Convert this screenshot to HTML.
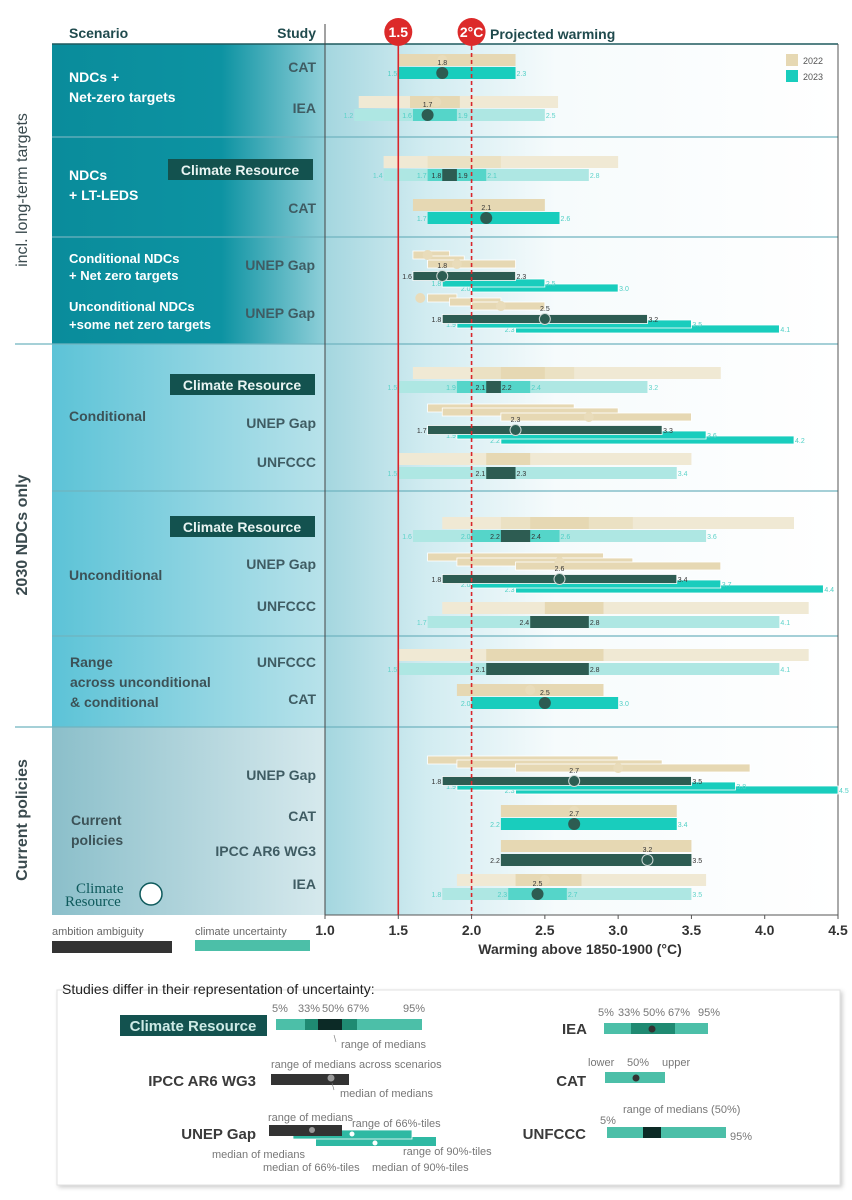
<!DOCTYPE html>
<html><head><meta charset="utf-8"><style>
html,body{margin:0;padding:0;background:#fff;}
svg{display:block;font-family:"Liberation Sans","DejaVu Sans",sans-serif;}
</style></head><body>
<svg id="chart" width="852" height="1200" viewBox="0 0 852 1200" xmlns="http://www.w3.org/2000/svg">
<defs>
<linearGradient id="gDark" x1="0" x2="1" y1="0" y2="0"><stop offset="0" stop-color="#0a8c9b"/><stop offset="0.62" stop-color="#0d93a2"/><stop offset="1" stop-color="#8fcfd9"/></linearGradient>
<linearGradient id="gMid" x1="0" x2="1" y1="0" y2="0"><stop offset="0" stop-color="#5cc3d7"/><stop offset="1" stop-color="#b8e2ea"/></linearGradient>
<linearGradient id="gGrey" x1="0" x2="1" y1="0" y2="0"><stop offset="0" stop-color="#8bbfca"/><stop offset="1" stop-color="#d6e9ed"/></linearGradient>
<linearGradient id="gPlot" x1="0" x2="1" y1="0" y2="0"><stop offset="0" stop-color="#a4d6df"/><stop offset="0.2" stop-color="#d2ecf1"/><stop offset="0.45" stop-color="#f6fbfc"/><stop offset="1" stop-color="#ffffff"/></linearGradient>
<filter id="shadow" x="-5%" y="-5%" width="110%" height="115%"><feDropShadow dx="2" dy="2" stdDeviation="2" flood-color="#000" flood-opacity="0.2"/></filter>
</defs>

<text x="69" y="38" font-size="14" font-weight="bold" fill="#1f4a4d">Scenario</text>
<text x="316" y="38" font-size="14" font-weight="bold" fill="#1f4a4d" text-anchor="end">Study</text>
<text x="490" y="39" font-size="14" font-weight="bold" fill="#1f4a4d">Projected warming</text>

<rect x="52" y="44" width="273" height="300" fill="url(#gDark)"/>
<rect x="52" y="344" width="273" height="383" fill="url(#gMid)"/>
<rect x="52" y="727" width="273" height="188" fill="url(#gGrey)"/>
<rect x="325" y="44" width="513" height="871" fill="url(#gPlot)"/>

<g stroke="#6fb3bf" stroke-width="1.2">
<line x1="52" x2="838" y1="137" y2="137"/><line x1="52" x2="838" y1="237" y2="237"/>
<line x1="15" x2="838" y1="344" y2="344"/><line x1="52" x2="838" y1="491" y2="491"/>
<line x1="52" x2="838" y1="636" y2="636"/><line x1="15" x2="838" y1="727" y2="727"/>
</g>
<line x1="52" x2="838" y1="44" y2="44" stroke="#1f5a5e" stroke-width="1.5"/>
<line x1="325" x2="325" y1="24" y2="918" stroke="#444" stroke-width="1"/>
<line x1="838" x2="838" y1="44" y2="915" stroke="#555" stroke-width="1"/>

<text transform="translate(27,190) rotate(-90)" font-size="16" fill="#3a4a4e" text-anchor="middle">incl. long-term targets</text>
<text transform="translate(27,535) rotate(-90)" font-size="16" font-weight="bold" fill="#3a4a4e" text-anchor="middle">2030 NDCs only</text>
<text transform="translate(27,820) rotate(-90)" font-size="16" font-weight="bold" fill="#3a4a4e" text-anchor="middle">Current policies</text>

<g font-size="14" font-weight="bold" fill="#ffffff">
<text x="69" y="82"><tspan x="69">NDCs +</tspan><tspan x="69" dy="20">Net-zero targets</tspan></text>
<text x="69" y="180"><tspan x="69">NDCs</tspan><tspan x="69" dy="20">+ LT-LEDS</tspan></text>
<text x="69" y="263" font-size="13"><tspan x="69">Conditional NDCs</tspan><tspan x="69" dy="17">+ Net zero targets</tspan></text>
<text x="69" y="311" font-size="13"><tspan x="69">Unconditional NDCs</tspan><tspan x="69" dy="18">+some net zero targets</tspan></text>
</g>
<g font-size="14" font-weight="bold" fill="#3c5257">
<text x="69" y="421">Conditional</text>
<text x="69" y="580">Unconditional</text>
<text x="70" y="667"><tspan x="70">Range</tspan><tspan x="70" dy="20">across unconditional</tspan><tspan x="70" dy="20">&amp; conditional</tspan></text>
<text x="71" y="825"><tspan x="71">Current</tspan><tspan x="71" dy="20">policies</tspan></text>
</g>

<g font-size="14" font-weight="bold" fill="#3f5c63" text-anchor="end">
<text x="316" y="72">CAT</text>
<text x="316" y="113">IEA</text>
<text x="316" y="213">CAT</text>
<text x="315" y="270">UNEP Gap</text>
<text x="315" y="318">UNEP Gap</text>
<text x="316" y="428">UNEP Gap</text>
<text x="316" y="467">UNFCCC</text>
<text x="316" y="569">UNEP Gap</text>
<text x="316" y="611">UNFCCC</text>
<text x="316" y="667">UNFCCC</text>
<text x="316" y="704">CAT</text>
<text x="316" y="780">UNEP Gap</text>
<text x="316" y="821">CAT</text>
<text x="316" y="856">IPCC AR6 WG3</text>
<text x="316" y="889">IEA</text>
</g>
<g><rect x="168" y="159" width="145" height="21" fill="#13524f"/><text x="240" y="175" font-size="14" font-weight="bold" fill="#e8f4f2" text-anchor="middle">Climate Resource</text></g>
<g><rect x="170" y="374" width="145" height="21" fill="#13524f"/><text x="242" y="390" font-size="14" font-weight="bold" fill="#e8f4f2" text-anchor="middle">Climate Resource</text></g>
<g><rect x="170" y="516" width="145" height="21" fill="#13524f"/><text x="242" y="532" font-size="14" font-weight="bold" fill="#e8f4f2" text-anchor="middle">Climate Resource</text></g>

<g>
<text x="76" y="893" font-family="Liberation Serif, serif" font-size="15" fill="#0e5a5c">Climate</text>
<text x="65" y="906" font-family="Liberation Serif, serif" font-size="15" fill="#0e5a5c">Resource</text>
<circle cx="151" cy="894" r="11" fill="#fff" stroke="#0e5a5c" stroke-width="1.5"/>
</g>

<g>
<rect x="786" y="54" width="12" height="12" fill="#e6d8b3"/><text x="803" y="64" font-size="9" fill="#555">2022</text>
<rect x="786" y="70" width="12" height="12" fill="#19cdbd"/><text x="803" y="80" font-size="9" fill="#555">2023</text>
</g>

<g id="marks"></g>
<g id="reflines"></g>

<line x1="325" x2="838" y1="915" y2="915" stroke="#555" stroke-width="1"/>
<g id="xaxis"></g>
<text x="580" y="954" font-size="14" font-weight="bold" fill="#333" text-anchor="middle">Warming above 1850-1900 (°C)</text>

<text x="52" y="935" font-size="11" fill="#666">ambition ambiguity</text>
<rect x="52" y="941" width="120" height="12" fill="#333"/>
<text x="195" y="935" font-size="11" fill="#666">climate uncertainty</text>
<rect x="195" y="940" width="115" height="11" fill="#4cbfa8"/>

<rect x="57" y="990" width="783" height="195" fill="#fff" stroke="#e2e2e2" filter="url(#shadow)"/>
<text x="62" y="994" font-size="14" fill="#222">Studies differ in their representation of uncertainty:</text>
<g font-size="11" fill="#777">
<rect x="120" y="1015" width="147" height="21" fill="#13524f"/>
<text x="193" y="1031" font-size="15" font-weight="bold" fill="#cdeae6" text-anchor="middle">Climate Resource</text>
<g><rect x="276" y="1019" width="146" height="11" fill="#4cbfa8"/><rect x="305" y="1019" width="52" height="11" fill="#1f8a72"/><rect x="318" y="1019" width="24" height="11" fill="#0c2a26"/></g>
<text x="272" y="1012">5%</text><text x="298" y="1012">33%</text><text x="322" y="1012">50%</text><text x="347" y="1012">67%</text><text x="403" y="1012">95%</text>
<line x1="334" y1="1035" x2="336" y2="1042" stroke="#777" stroke-width="0.6"/>
<text x="341" y="1048">range of medians</text>
<text x="256" y="1086" font-size="15" font-weight="bold" fill="#3a3a3a" text-anchor="end">IPCC AR6 WG3</text>
<rect x="271" y="1074" width="78" height="11" fill="#333"/>
<circle cx="331" cy="1078" r="3.5" fill="#999"/>
<text x="271" y="1068">range of medians across scenarios</text>
<line x1="332" y1="1083" x2="334" y2="1090" stroke="#777" stroke-width="0.6"/>
<text x="340" y="1097">median of medians</text>
<text x="256" y="1139" font-size="15" font-weight="bold" fill="#3a3a3a" text-anchor="end">UNEP Gap</text>
<g>
<rect x="316" y="1137" width="120" height="9" fill="#2fb9a3"/>
<rect x="293" y="1130" width="119" height="9" fill="#2fb9a3" stroke="#fff" stroke-width="0.8"/>
<rect x="269" y="1125" width="73" height="11" fill="#333"/>
<circle cx="312" cy="1130" r="3" fill="#999"/><circle cx="352" cy="1134" r="2.5" fill="#fff"/><circle cx="375" cy="1143" r="2.5" fill="#fff"/>
</g>
<text x="268" y="1121">range of medians</text>
<text x="352" y="1127">range of 66%-tiles</text>
<text x="403" y="1155">range of 90%-tiles</text>
<text x="212" y="1158">median of medians</text>
<text x="263" y="1171">median of 66%-tiles</text>
<text x="372" y="1171">median of 90%-tiles</text>
<text x="587" y="1034" font-size="15" font-weight="bold" fill="#3a3a3a" text-anchor="end">IEA</text>
<g><rect x="604" y="1023" width="104" height="11" fill="#4cbfa8"/><rect x="631" y="1023" width="44" height="11" fill="#1f8a72"/><circle cx="652" cy="1029" r="3.5" fill="#333"/></g>
<text x="598" y="1016">5%</text><text x="618" y="1016">33%</text><text x="643" y="1016">50%</text><text x="668" y="1016">67%</text><text x="698" y="1016">95%</text>
<text x="586" y="1086" font-size="15" font-weight="bold" fill="#3a3a3a" text-anchor="end">CAT</text>
<g><rect x="605" y="1072" width="60" height="11" fill="#4cbfa8"/><circle cx="636" cy="1078" r="3.5" fill="#333"/></g>
<text x="588" y="1066">lower</text><text x="627" y="1066">50%</text><text x="662" y="1066">upper</text>
<text x="586" y="1139" font-size="15" font-weight="bold" fill="#3a3a3a" text-anchor="end">UNFCCC</text>
<g><rect x="607" y="1127" width="119" height="11" fill="#4cbfa8"/><rect x="643" y="1127" width="18" height="11" fill="#0c2a26"/></g>
<text x="600" y="1124">5%</text><text x="730" y="1140">95%</text><text x="623" y="1113">range of medians (50%)</text>
</g>
</svg>
<script>
const tickValues = [1.0, 1.5, 2.0, 2.5, 3.0, 3.5, 4.0, 4.5];
const tickLabels = ["1.0", "1.5", "2.0", "2.5", "3.0", "3.5", "4.0", "4.5"];
const refValues = [1.5, 2.0];
const refLabels = ["1.5", "2°C"];
const barSlot = [0,1, 2,2,3,3, 4,4,4,5,5,5, 6,7,
  8,9,10,13,12,11, 14,15,16,19,18,17,
  20,20,20,21,21,21, 22,23,24,27,26,25, 28,28,29,29,
  30,30,30,31,31,31, 32,33,34,37,36,35, 38,38,39,39,
  40,40,41,41, 42,43, 44,45,46,49,48,47, 50,51, 52,53, 54,54,55,55];
const barLo = [1.5,1.5, 1.23,1.58,1.2,1.6, 1.4,1.7,1.9,1.4,1.7,1.8, 1.6,1.7,
  1.6,1.7,1.7,2.0,1.8,1.6, 1.7,1.85,2.0,2.3,1.9,1.8,
  1.6,2.0,2.2,1.5,1.9,2.1, 1.7,1.8,2.2,2.2,1.9,1.7, 1.5,2.1,1.5,2.1,
  1.8,2.2,2.4,1.6,2.0,2.2, 1.7,1.9,2.3,2.3,2.0,1.8, 1.8,2.5,1.7,2.4,
  1.5,2.1,1.5,2.1, 1.9,2.0, 1.7,1.9,2.3,2.3,1.9,1.8, 2.2,2.2, 2.2,2.2, 1.9,2.3,1.8,2.25];
const barHi = [2.3,2.3, 2.59,1.92,2.5,1.9, 3.0,2.2,2.0,2.8,2.1,1.9, 2.5,2.6,
  1.85,1.95,2.3,3.0,2.5,2.3, 1.9,2.2,2.5,4.1,3.5,3.2,
  3.7,2.7,2.5,3.2,2.4,2.2, 2.7,3.0,3.5,4.2,3.6,3.3, 3.5,2.4,3.4,2.3,
  4.2,3.1,2.8,3.6,2.6,2.4, 2.9,3.1,3.7,4.4,3.7,3.4, 4.3,2.9,4.1,2.8,
  4.3,2.9,4.1,2.8, 2.9,3.0, 3.0,3.3,3.9,4.5,3.8,3.5, 3.4,3.4, 3.5,3.5, 3.6,2.75,3.5,2.65];
const barStyle = ["t","T", "tf","t","tl","tm", "tf","tf2","tf2","tl","tm","d", "t","T",
  "ts","ts","ts","Ts","Ts","ds", "ts","ts","ts","Ts","Ts","ds",
  "tf","tf2","t","tl","tm","d", "ts","ts","ts","Ts","Ts","ds", "tf","t","tl","d",
  "tf","tf2","t","tl","tm","d", "ts","ts","ts","Ts","Ts","ds", "tf","t","tl","d",
  "tf","t","tl","d", "t","T", "ts","ts","ts","Ts","Ts","ds", "t","T", "t","d", "tf","t","tl","tm"];
const dotSlot = [0,1,2,3,7,8,10,11,14,16,17,24,25,33,35,42,43,46,47,50,51,52,53,54,55];
const dotVal = [1.8,1.8,1.76,1.7,2.1,1.7,1.9,1.8,1.65,2.2,2.5,2.8,2.3,2.6,2.6,2.4,2.5,3.0,2.7,2.7,2.7,3.2,3.2,2.5,2.45];
const dotKind = ["tan","fill","tan","fill","fill","tan","tan","ring","tan","tan","ring","tan","ring","tan","ring","tan","fill","tan","ring","tan","fill","tan","ring","tan","fill"];

const slotY = [60,73,102,115,162,175,205,218,255,260,264,276,283,288,298,302,306,319,324,329,
  373,387,408,412,417,430,435,440,459,473,523,536,557,562,566,579,584,589,608,622,
  655,669,690,703,760,764,768,781,786,790,811,824,846,860,880,894];
const X0 = 325, X1 = 838, V0 = 1.0, V1 = 4.5;
function xs(v){ return X0 + (v - V0) * (X1 - X0) / (V1 - V0); }
const STY = {
  t:{fill:"#e6d8b3",h:12}, tf:{fill:"#f0e9d4",h:12}, tf2:{fill:"#ebe1c3",h:12},
  ts:{fill:"#e6d8b3",h:8,stroke:"#fff"},
  T:{fill:"#19cdbd",h:12,lab:"#4fcfc5"}, Ts:{fill:"#19cdbd",h:8,stroke:"#fff",lab:"#4fcfc5"},
  tl:{fill:"#aee7e3",h:12,lab:"#5fd3ca"}, tm:{fill:"#55d5c9",h:12,lab:"#4fcfc5"},
  d:{fill:"#2d5c52",h:12,lab:"#333"}, ds:{fill:"#2d5c52",h:9,stroke:"#fff",lab:"#333"}
};
const NS = "http://www.w3.org/2000/svg";
const marks = document.getElementById("marks");
function mk(tag, attrs, parent){ const e = document.createElementNS(NS, tag); for (const k in attrs) e.setAttribute(k, attrs[k]); parent.appendChild(e); return e; }
function fmt(v){ return (Math.round(v*10)/10).toFixed(1); }

for (let i = 0; i < barLo.length; i++) {
  const s = STY[barStyle[i]], y = slotY[barSlot[i]];
  const x1 = xs(barLo[i]), x2 = xs(barHi[i]);
  const r = mk("rect", {x:x1, y:y - s.h/2, width:Math.max(1, x2 - x1), height:s.h, fill:s.fill}, marks);
  if (s.stroke) { r.setAttribute("stroke", s.stroke); r.setAttribute("stroke-width", "0.8"); }
  
  
  if (s.lab) {
    const a = mk("text", {x:x1 - 1, y:y + 3, "font-size":7, fill:s.lab, "text-anchor":"end"}, marks);
    a.textContent = fmt(barLo[i]);
    
    
    const b = mk("text", {x:x2 + 1, y:y + 3, "font-size":7, fill:s.lab}, marks);
    b.textContent = fmt(barHi[i]);
    
    
  }
}
for (let i = 0; i < dotVal.length; i++) {
  const y = slotY[dotSlot[i]], cx = xs(dotVal[i]), k = dotKind[i];
  let c;
  if (k === "tan") c = mk("circle", {cx:cx, cy:y, r:5, fill:"#e9dcba"}, marks);
  else if (k === "fill") c = mk("circle", {cx:cx, cy:y, r:5.5, fill:"#2d5c52", stroke:"#2d5c52"}, marks);
  else c = mk("circle", {cx:cx, cy:y, r:5.5, fill:"#2d5c52", stroke:"#cfd8d6", "stroke-width":1}, marks);
  
  
  if (k !== "tan") {
    const t = mk("text", {x:cx, y:y - 8, "font-size":7, fill:"#333", "text-anchor":"middle"}, marks);
    t.textContent = fmt(dotVal[i]);
    
    
  }
}
const rl = document.getElementById("reflines");
for (let i = 0; i < refValues.length; i++) {
  const x = xs(refValues[i]);
  const l = mk("line", {x1:x, x2:x, y1:32, y2:915, stroke:"#d9262b", "stroke-width":1.6}, rl);
  if (i === 1) l.setAttribute("stroke-dasharray", "4,3");
  
  
  const c = mk("circle", {cx:x, cy:32, r:14, fill:"#dc2a2a"}, rl);
  
  
  const t = mk("text", {x:x, y:37, "font-size":14, "font-weight":"bold", fill:"#fff", "text-anchor":"middle"}, rl);
  t.textContent = refLabels[i];
  
  
}
const xa = document.getElementById("xaxis");
for (let i = 0; i < tickValues.length; i++) {
  const x = xs(tickValues[i]);
  const tk = mk("line", {x1:x, x2:x, y1:915, y2:919, stroke:"#555"}, xa);
  
  
  const t = mk("text", {x:x, y:935, "font-size":14, "font-weight":"bold", fill:"#333", "text-anchor":"middle"}, xa);
  t.textContent = tickLabels[i];
  
  
}
</script>
</body></html>
